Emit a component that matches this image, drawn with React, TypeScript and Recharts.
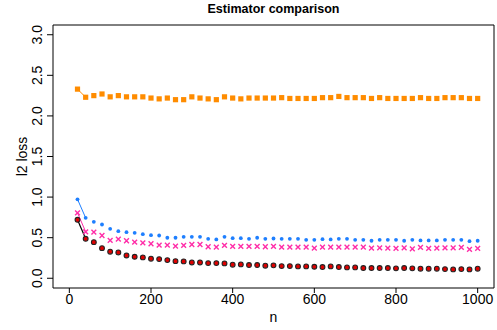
import { LineChart, Line, XAxis, YAxis, ReferenceArea } from "recharts";

// sample sizes on the x axis
const sampleSizes = [
  20, 40, 60, 80, 100, 120, 140, 160, 180, 200,
  220, 240, 260, 280, 300, 320, 340, 360, 380, 400,
  420, 440, 460, 480, 500, 520, 540, 560, 580, 600,
  620, 640, 660, 680, 700, 720, 740, 760, 780, 800,
  820, 840, 860, 880, 900, 920, 940, 960, 980, 1000,
];

// l2 loss for each estimator
const lossSquare = [
  2.33, 2.23, 2.25, 2.27, 2.235, 2.25, 2.235, 2.235, 2.235, 2.22,
  2.21, 2.22, 2.2, 2.2, 2.235, 2.22, 2.21, 2.2, 2.235, 2.22,
  2.21, 2.22, 2.22, 2.22, 2.22, 2.225, 2.215, 2.215, 2.215, 2.215,
  2.225, 2.225, 2.24, 2.225, 2.225, 2.225, 2.215, 2.225, 2.215, 2.215,
  2.215, 2.215, 2.225, 2.215, 2.215, 2.225, 2.225, 2.225, 2.215, 2.215,
];
const lossDot = [
  0.973, 0.744, 0.695, 0.662, 0.609, 0.58, 0.568, 0.56, 0.543, 0.531,
  0.527, 0.499, 0.499, 0.511, 0.511, 0.511, 0.486, 0.478, 0.511, 0.494,
  0.494, 0.486, 0.499, 0.486, 0.49, 0.486, 0.486, 0.486, 0.474, 0.474,
  0.482, 0.478, 0.486, 0.486, 0.474, 0.474, 0.462, 0.474, 0.474, 0.474,
  0.462, 0.474, 0.466, 0.466, 0.466, 0.474, 0.474, 0.474, 0.457, 0.462,
];
const lossCross = [
  0.806, 0.572, 0.568, 0.527, 0.466, 0.482, 0.462, 0.445, 0.437, 0.425,
  0.408, 0.408, 0.396, 0.404, 0.416, 0.416, 0.388, 0.384, 0.404, 0.392,
  0.392, 0.392, 0.392, 0.388, 0.392, 0.384, 0.384, 0.384, 0.384, 0.371,
  0.384, 0.384, 0.384, 0.384, 0.384, 0.384, 0.371, 0.375, 0.371, 0.367,
  0.375, 0.363, 0.38, 0.367, 0.371, 0.375, 0.375, 0.38, 0.355, 0.367,
];
const lossCircle = [
  0.72, 0.486, 0.445, 0.371, 0.327, 0.318, 0.281, 0.265, 0.257, 0.241,
  0.236, 0.224, 0.211, 0.208, 0.195, 0.195, 0.187, 0.187, 0.183, 0.167,
  0.171, 0.163, 0.163, 0.155, 0.159, 0.15, 0.15, 0.146, 0.146, 0.142,
  0.138, 0.146, 0.138, 0.134, 0.134, 0.126, 0.126, 0.126, 0.126, 0.122,
  0.126, 0.122, 0.118, 0.118, 0.118, 0.113, 0.109, 0.113, 0.109, 0.118,
];

const xTicks = [0, 200, 400, 600, 800, 1000];
const yTicks = [0, 0.5, 1, 1.5, 2, 2.5, 3];

const rows = sampleSizes.map((n, i) => ({
  n,
  square: lossSquare[i],
  dot: lossDot[i],
  cross: lossCross[i],
  circle: lossCircle[i],
}));
// type="b" in R leaves only the first segment visible between the markers
const firstStep = rows.slice(0, 2);

const FONT = "'Liberation Sans', Arial, Helvetica, sans-serif";
const ORANGE = "#FF8C00";
const BLUE = "#1E7FFF";
const PINK = "#FF2DA8";

const SquareDot = (props: any) => {
  const { cx, cy, index } = props;
  if (cx == null || cy == null) return <g key={index} />;
  return <rect key={index} x={cx - 2.6} y={cy - 2.6} width={5.2} height={5.2} fill={ORANGE} />;
};

const SmallDot = (props: any) => {
  const { cx, cy, index } = props;
  if (cx == null || cy == null) return <g key={index} />;
  return <circle key={index} cx={cx} cy={cy} r={1.9} fill={BLUE} />;
};

const CrossDot = (props: any) => {
  const { cx, cy, index } = props;
  if (cx == null || cy == null) return <g key={index} />;
  const s = 2.4;
  return (
    <path
      key={index}
      d={`M${cx - s},${cy - s}L${cx + s},${cy + s}M${cx - s},${cy + s}L${cx + s},${cy - s}`}
      stroke={PINK}
      strokeWidth={1.4}
      fill="none"
    />
  );
};

const RingDot = (props: any) => {
  const { cx, cy, index } = props;
  if (cx == null || cy == null) return <g key={index} />;
  return <circle key={index} cx={cx} cy={cy} r={2.4} fill="#E00000" stroke="#222" strokeWidth={1.1} />;
};

const YTick = ({ x, y, payload }: any) => (
  <text
    x={x - 8}
    y={y}
    transform={`rotate(-90, ${x - 8}, ${y})`}
    textAnchor="middle"
    dy="0.35em"
    fontSize={14}
    fontFamily={FONT}
    fill="#000"
  >
    {Number(payload.value).toFixed(1)}
  </text>
);

const XTick = ({ x, y, payload }: any) => (
  <text x={x} y={y} textAnchor="middle" dy="0.35em" fontSize={14} fontFamily={FONT} fill="#000">
    {payload.value}
  </text>
);

export default function App() {
  return (
    <div style={{ position: "fixed", left: 0, top: 0, width: 497, height: 330, background: "#fff" }}>
      <div
        style={{
          position: "absolute",
          left: 0,
          width: 547,
          top: 2,
          textAlign: "center",
          fontFamily: FONT,
          fontWeight: "bold",
          fontSize: 12.5,
          color: "#000",
        }}
      >
        Estimator comparison
      </div>
      <LineChart width={497} height={330} data={rows} margin={{ top: 25, right: 3, bottom: 0, left: 0 }}>
        <XAxis
          dataKey="n"
          type="number"
          domain={[-40, 1040]}
          ticks={xTicks}
          allowDataOverflow
          axisLine={false}
          tickLine={{ stroke: "#000" }}
          tickSize={5}
          tickMargin={6}
          height={42}
          tick={<XTick />}
          label={{
            content: ({ viewBox }: any) => (
              <text
                x={viewBox.x + viewBox.width / 2}
                y={viewBox.y + 29}
                dy="0.35em"
                textAnchor="middle"
                fontSize={14}
                fontFamily={FONT}
                fill="#000"
              >
                n
              </text>
            ),
          }}
        />
        <YAxis
          type="number"
          domain={[-0.12, 3.12]}
          ticks={yTicks}
          allowDataOverflow
          axisLine={false}
          tickLine={{ stroke: "#000" }}
          tickSize={6}
          width={53}
          tick={<YTick />}
          label={{
            content: ({ viewBox }: any) => (
              <text
                x={22}
                y={viewBox.y + viewBox.height / 2}
                transform={`rotate(-90, 22, ${viewBox.y + viewBox.height / 2})`}
                dy="0.35em"
                textAnchor="middle"
                fontSize={14}
                fontFamily={FONT}
                fill="#000"
              >
                l2 loss
              </text>
            ),
          }}
        />
        <ReferenceArea x1={-40} x2={1040} y1={-0.12} y2={3.12} fill="none" stroke="#000" strokeWidth={1} ifOverflow="visible" />

        <Line data={firstStep} dataKey="square" stroke={ORANGE} strokeWidth={1} dot={false} isAnimationActive={false} />
        <Line data={firstStep} dataKey="dot" stroke={BLUE} strokeWidth={1} dot={false} isAnimationActive={false} />
        <Line data={firstStep} dataKey="cross" stroke={PINK} strokeWidth={1} dot={false} isAnimationActive={false} />
        <Line data={firstStep} dataKey="circle" stroke="#000" strokeWidth={1.2} dot={false} isAnimationActive={false} />

        <Line dataKey="square" stroke="none" dot={<SquareDot />} activeDot={false} isAnimationActive={false} />
        <Line dataKey="dot" stroke="none" dot={<SmallDot />} activeDot={false} isAnimationActive={false} />
        <Line dataKey="cross" stroke="none" dot={<CrossDot />} activeDot={false} isAnimationActive={false} />
        <Line dataKey="circle" stroke="none" dot={<RingDot />} activeDot={false} isAnimationActive={false} />
      </LineChart>
    </div>
  );
}
